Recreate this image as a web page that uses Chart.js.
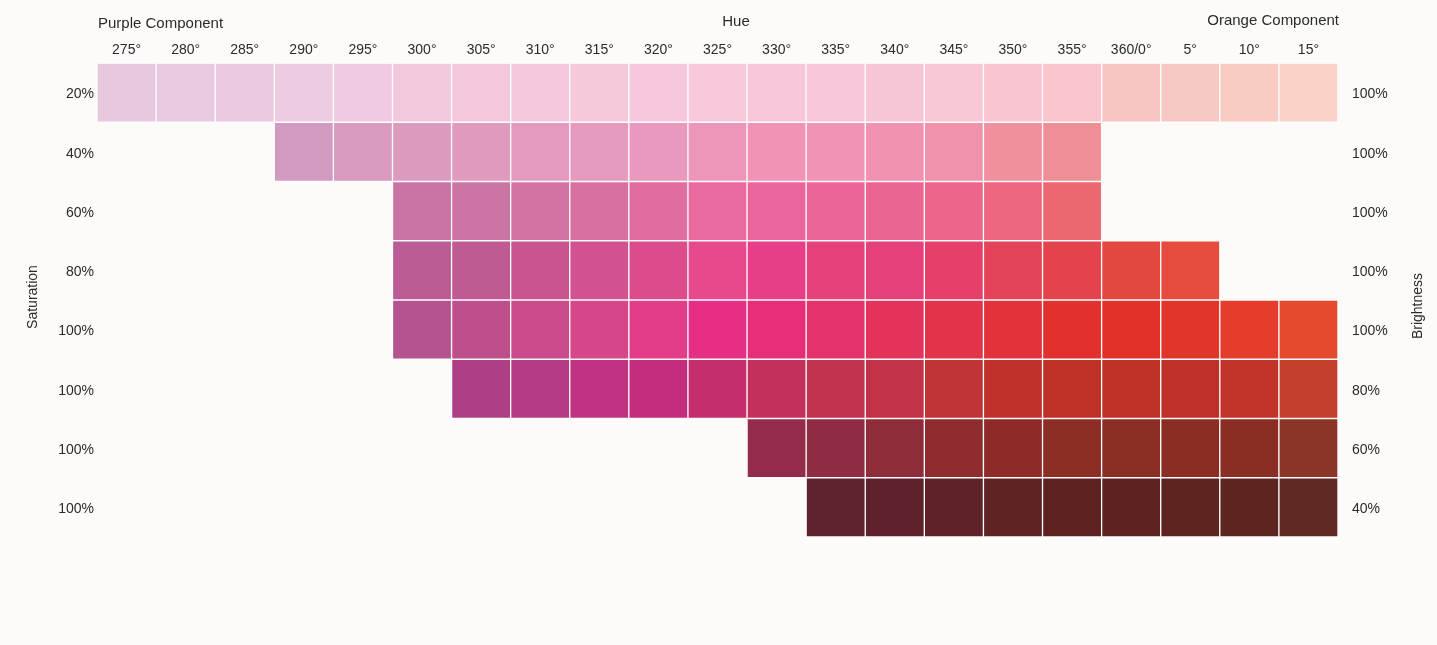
<!DOCTYPE html>
<html>
<head>
<meta charset="utf-8">
<title>Hue swatches</title>
<script src="https://cdn.jsdelivr.net/npm/chart.js@4.4.1/dist/chart.umd.min.js"></script>
<style>
	html, body { margin: 0; padding: 0; background: #FCFBF9; }
	#wrap { position: relative; width: 1437px; height: 645px; }
</style>
</head>
<body>
<div id="wrap"><canvas id="swatch-chart"></canvas></div>
<script>
	'use strict';

	// hue columns
	var hueLabels = ['275°', '280°', '285°', '290°', '295°', '300°', '305°', '310°', '315°', '320°', '325°',
		'330°', '335°', '340°', '345°', '350°', '355°', '360/0°', '5°', '10°', '15°'];

	// row labels
	var saturationLabels = ['20%', '40%', '60%', '80%', '100%', '100%', '100%', '100%'];
	var brightnessLabels = ['100%', '100%', '100%', '100%', '100%', '80%', '60%', '40%'];

	// swatch colours per row, one entry per hue column (null = no swatch)
	var rowS20B100 = ['#E8C8DE', '#E9C9DF', '#EAC9DF', '#EDCBE0', '#F0CAE0', '#F2C8DD', '#F3C8DC', '#F4C8DC',
		'#F5C8DC', '#F7C8DD', '#F8C8DC', '#F8C7DA', '#F8C6D9', '#F8C5D6', '#F8C6D4', '#F9C5D0', '#F9C4CA',
		'#F8C5C5', '#F8C9C4', '#F9CCC3', '#FBD3C6'];
	var rowS40B100 = [null, null, null, '#D39ABF', '#D99ABF', '#DD9ABF', '#E09ABE', '#E39ABE', '#E69ABE',
		'#EA99BE', '#EC97BA', '#F093B6', '#F193B5', '#F192B1', '#F192AD', '#F0909F', '#F09096',
		null, null, null, null];
	var rowS60B100 = [null, null, null, null, null, '#C874A5', '#CC74A4', '#D373A3', '#D870A2', '#DF6DA0',
		'#E86A9E', '#EC669E', '#EC6599', '#EB6592', '#EB668A', '#EC6680', '#EB6870',
		null, null, null, null];
	var rowS80B100 = [null, null, null, null, null, '#BC5C96', '#C05A92', '#C85490', '#D2518F', '#DC4C8C',
		'#E8488C', '#E83E88', '#E6407D', '#E5407A', '#E53F6A', '#E44358', '#E4434D', '#E44640', '#E74B3D',
		null, null];
	var rowS100B100 = [null, null, null, null, null, '#B4538F', '#BF4F8C', '#C94B8C', '#D6468B', '#E33D8A',
		'#E72E86', '#E72E77', '#E4336A', '#E3335A', '#E3334A', '#E3323A', '#E2302C', '#E22F28', '#E2352A',
		'#E43D2B', '#E54A2E'];
	var rowS100B80 = [null, null, null, null, null, null, '#AE3F87', '#B53B85', '#C03282', '#C42D7D',
		'#C42E6C', '#C3305C', '#C1324E', '#C23246', '#C13436', '#BF3129', '#BE3127', '#BF3127', '#BF3128',
		'#C03429', '#C2402B'];
	var rowS100B60 = [null, null, null, null, null, null, null, null, null, null, null,
		'#922C4A', '#8F2C42', '#8F2C3A', '#8E2C30', '#8E2B28', '#8C2E26', '#8B2E26', '#8B2D24', '#8A2D24', '#8B3428'];
	var rowS100B40 = [null, null, null, null, null, null, null, null, null, null, null, null,
		'#5F2330', '#5F222C', '#5F2228', '#5F2324', '#5D2220', '#5D2220', '#5D2420', '#5D2420', '#5F2A22'];

	var swatchRows = [rowS20B100, rowS40B100, rowS60B100, rowS80B100, rowS100B100, rowS100B80, rowS100B60, rowS100B40];

	var textColor = '#2B2B2B';
	Chart.defaults.font.family = "'Liberation Sans', Arial, sans-serif";
	Chart.defaults.color = textColor;

	// one floating-bar dataset per row, every bar spans [row, row + 1]
	var dataSets = swatchRows.map(function(colors, rowIndex) {
		return {
			label: saturationLabels[rowIndex] + ' / ' + brightnessLabels[rowIndex],
			data: colors.map(function(c) { return c ? [rowIndex, rowIndex + 1] : null; }),
			backgroundColor: colors.map(function(c) { return c || 'rgba(0,0,0,0)'; }),
			borderColor: '#FFFFFF',
			borderWidth: 1,
			borderSkipped: false,
			grouped: false,
			barPercentage: 1,
			categoryPercentage: 1,
			yAxisID: 'y'
		};
	});

	function rowTicks(scale) {
		scale.ticks = saturationLabels.map(function(_, i) { return { value: i + 0.5 }; });
	}

	// titles around the grid
	var titlesPlugin = {
		id: 'swatchTitles',
		afterDraw: function(chart) {
			var ctx = chart.ctx;
			var area = chart.chartArea;
			ctx.save();
			ctx.fillStyle = textColor;
			ctx.font = "15px 'Liberation Sans', Arial, sans-serif";
			ctx.textBaseline = 'middle';

			ctx.textAlign = 'left';
			ctx.fillText('Purple Component', area.left + 1, 24);
			ctx.textAlign = 'center';
			ctx.fillText('Hue', 736, 22);
			ctx.textAlign = 'right';
			ctx.fillText('Orange Component', area.right + 1, 21);

			ctx.font = "14px 'Liberation Sans', Arial, sans-serif";
			ctx.textAlign = 'center';
			ctx.translate(33, 297);
			ctx.rotate(-Math.PI / 2);
			ctx.fillText('Saturation', 0, 0);
			ctx.restore();

			ctx.save();
			ctx.fillStyle = textColor;
			ctx.font = "14px 'Liberation Sans', Arial, sans-serif";
			ctx.textBaseline = 'middle';
			ctx.textAlign = 'center';
			ctx.translate(1418, 306);
			ctx.rotate(-Math.PI / 2);
			ctx.fillText('Brightness', 0, 0);
			ctx.restore();
		}
	};

	var chartObject = new Chart(document.getElementById('swatch-chart'), {
		type: 'bar',
		data: {
			labels: hueLabels,
			datasets: dataSets
		},
		options: {
			responsive: true,
			maintainAspectRatio: false,
			animation: false,
			layout: { padding: { left: 0, right: 0, top: 0, bottom: 108 } },
			plugins: {
				legend: { display: false },
				tooltip: { enabled: false }
			},
			scales: {
				x: {
					type: 'category',
					position: 'top',
					grid: { display: false, drawTicks: false },
					border: { display: false },
					ticks: { font: { size: 14 }, padding: 4, maxRotation: 0, autoSkip: false },
					afterFit: function(scale) { scale.height = 63; }
				},
				y: {
					type: 'linear',
					position: 'left',
					min: 0,
					max: 8,
					reverse: true,
					grid: { display: false, drawTicks: false },
					border: { display: false },
					afterBuildTicks: rowTicks,
					ticks: {
						font: { size: 14 },
						padding: 3,
						labelOffset: 2,
						callback: function(value, index) { return saturationLabels[index]; }
					},
					afterFit: function(scale) { scale.width = 97; }
				},
				yRight: {
					type: 'linear',
					position: 'right',
					min: 0,
					max: 8,
					reverse: true,
					grid: { display: false, drawTicks: false },
					border: { display: false },
					afterBuildTicks: rowTicks,
					ticks: {
						font: { size: 14 },
						padding: 14,
						labelOffset: 2,
						callback: function(value, index) { return brightnessLabels[index]; }
					},
					afterFit: function(scale) { scale.width = 99; }
				}
			}
		},
		plugins: [titlesPlugin]
	});
</script>
</body>
</html>
